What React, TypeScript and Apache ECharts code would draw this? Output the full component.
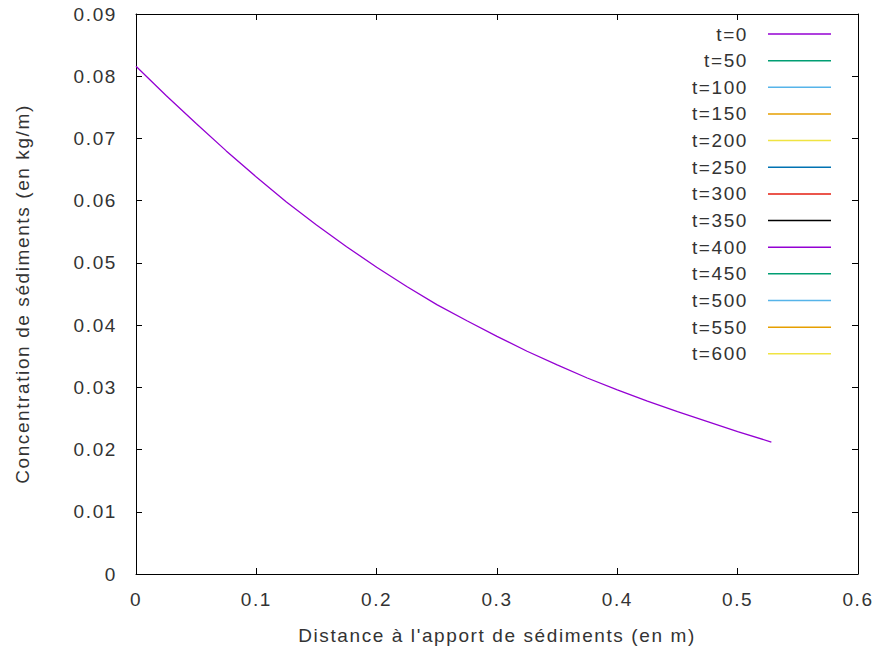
import React, { useEffect, useRef } from "react";
import * as echarts from "echarts";

const seriesNames = [
  "t=0", "t=50", "t=100", "t=150", "t=200", "t=250", "t=300",
  "t=350", "t=400", "t=450", "t=500", "t=550", "t=600",
];
const seriesColors = [
  "#9400d3", "#009e73", "#56b4e9", "#e69f00", "#f0e442", "#0072b2", "#e51e10",
  "#000000", "#9400d3", "#009e73", "#56b4e9", "#e69f00", "#f0e442",
];
const distance = [
  0, 0.025, 0.05, 0.075, 0.1, 0.125, 0.15, 0.175, 0.2, 0.225, 0.25, 0.275,
  0.3, 0.325, 0.35, 0.375, 0.4, 0.425, 0.45, 0.475, 0.5, 0.528,
];
const concentrationT0 = [
  0.0816, 0.0769, 0.0724, 0.0680, 0.0638, 0.0598, 0.0561, 0.0526, 0.0493,
  0.0462, 0.0433, 0.0407, 0.0382, 0.0358, 0.0336, 0.0315, 0.0296, 0.0278,
  0.0261, 0.0245, 0.0229, 0.0212,
];
const xTicks = [0, 0.1, 0.2, 0.3, 0.4, 0.5, 0.6];
const yTicks = [0, 0.01, 0.02, 0.03, 0.04, 0.05, 0.06, 0.07, 0.08, 0.09];

const FONT = "Liberation Sans, Arial, sans-serif";
const FS = 19;
const TEXT = "#333333";

export default function App() {
  const ref = useRef<HTMLDivElement>(null);
  useEffect(() => {
    if (!ref.current) return;
    const chart = echarts.init(ref.current, null, { renderer: "svg" });
    const axisCommon = {
      axisLine: { show: true, onZero: false, lineStyle: { color: "#000", width: 1 } },
      axisTick: { show: true, inside: true, length: 6, lineStyle: { color: "#000" } },
      splitLine: { show: false },
    };
    const series: any[] = seriesNames.map((name, i) => ({
      name,
      type: "line",
      showSymbol: false,
      symbol: "none",
      lineStyle: { color: seriesColors[i], width: 1.3 },
      data: i === 0 ? distance.map((d, k) => [d, concentrationT0[k]]) : [],
    }));
    const legendGraphics: any[] = [];
    seriesNames.forEach((name, i) => {
      const y = 34 + i * 26.65;
      legendGraphics.push({
        type: "text",
        x: 748,
        y,
        style: {
          text: name,
          align: "right",
          verticalAlign: "middle",
          fill: TEXT,
          font: `${FS}px ${FONT}`,
        },
      });
      legendGraphics.push({
        type: "line",
        shape: { x1: 768, y1: y, x2: 831, y2: y },
        style: { stroke: seriesColors[i], lineWidth: 1.5 },
      });
    });
    chart.setOption({
      animation: false,
      backgroundColor: "#ffffff",
      grid: { left: 136, right: 17, top: 14, bottom: 79, containLabel: false },
      xAxis: [
        {
          type: "value",
          min: xTicks[0],
          max: xTicks[xTicks.length - 1],
          interval: 0.1,
          position: "bottom",
          name: "Distance à l'apport de sédiments (en m)",
          nameLocation: "middle",
          nameGap: 52,
          nameTextStyle: { fontFamily: FONT, fontSize: FS, color: TEXT },
          axisLabel: { margin: 16, fontFamily: FONT, fontSize: FS, color: TEXT },
          ...axisCommon,
        },
        {
          type: "value",
          min: xTicks[0],
          max: xTicks[xTicks.length - 1],
          interval: 0.1,
          position: "top",
          axisLabel: { show: false },
          ...axisCommon,
        },
      ],
      yAxis: [
        {
          type: "value",
          min: yTicks[0],
          max: yTicks[yTicks.length - 1],
          interval: 0.01,
          position: "left",
          name: "Concentration de sédiments (en kg/m)",
          nameLocation: "middle",
          nameGap: 104,
          nameTextStyle: { fontFamily: FONT, fontSize: FS, color: TEXT },
          axisLabel: { margin: 19, fontFamily: FONT, fontSize: FS, color: TEXT },
          ...axisCommon,
        },
        {
          type: "value",
          min: yTicks[0],
          max: yTicks[yTicks.length - 1],
          interval: 0.01,
          position: "right",
          axisLabel: { show: false },
          ...axisCommon,
        },
      ],
      series,
      graphic: legendGraphics,
    });
    return () => chart.dispose();
  }, []);
  return (
    <div
      ref={ref}
      style={{
        position: "absolute",
        left: 0,
        top: 0,
        width: 875,
        height: 653,
        letterSpacing: "1.6px",
      }}
    />
  );
}
